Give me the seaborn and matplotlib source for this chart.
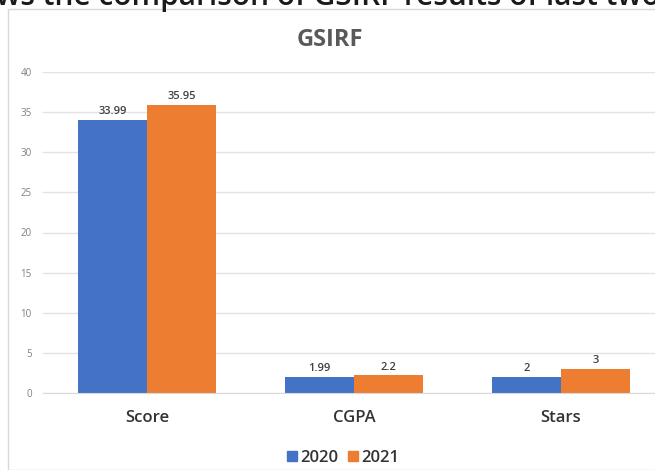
import numpy as np
import pandas as pd
import seaborn as sns
import matplotlib.pyplot as plt
import matplotlib.patches as patches

categories = ["Score", "CGPA", "Stars"]
years = ["2020", "2021"]
values_2020 = [33.99, 1.99, 2]
values_2021 = [35.95, 2.2, 3]
labels_2020 = ["33.99", "1.99", "2"]
labels_2021 = ["35.95", "2.2", "3"]

df = pd.DataFrame({
    "metric": categories * 2,
    "year": [years[0]] * 3 + [years[1]] * 3,
    "value": values_2020 + values_2021,
})

sns.set_style("white")
plt.rcParams["font.family"] = ["Open Sans", "DejaVu Sans"]

W, H = 655, 470
fig = plt.figure(figsize=(W / 100, H / 100), dpi=100)

# chart frame and the caption line above it (clipped at the top in the source)
fig.patches.append(patches.Rectangle((8 / W, 0), 1, 1 - 9 / H, transform=fig.transFigure,
                                     fill=False, edgecolor="#d9d9d9", linewidth=1))
fig.text(0.5, 1 - 5 / H, "ws the comparison of GSIRF results of last two", ha="center",
         va="baseline", fontsize=21.5, fontweight="semibold", color="#1a1a1a")
fig.text(330 / W, 1 - 40 / H, "GSIRF", ha="center", va="center", fontsize=17,
         fontweight="bold", color="#595959")

ax = fig.add_axes([43 / W, 1 - 393 / H, (W - 43) / W, (393 - 72) / H])
palette = {"2020": "#4472C4", "2021": "#ED7D31"}
sns.barplot(data=df, x="metric", y="value", hue="year", palette=palette, width=0.667,
            gap=0, saturation=1, linewidth=0, ax=ax, legend=False)

ax.set_ylim(0, 40)
ax.set_xlim(-0.502, 2.454)
ax.set_yticks(np.arange(0, 41, 5))
ax.yaxis.grid(True, color="#e3e3e3", linewidth=1)
ax.set_axisbelow(True)
for s in ax.spines.values():
    s.set_visible(False)
ax.spines["bottom"].set_visible(True)
ax.spines["bottom"].set_color("#d9d9d9")
ax.tick_params(axis="y", labelsize=7, colors="#808080", length=0, pad=8)
ax.tick_params(axis="x", labelsize=12, colors="#333333", length=0, pad=12)
for t in ax.get_xticklabels():
    t.set_fontweight("semibold")
ax.set_xlabel("")
ax.set_ylabel("")

for cont, labs in zip(ax.containers, [labels_2020, labels_2021]):
    ax.bar_label(cont, labels=labs, fontsize=8, color="#404040", fontweight="semibold", padding=2)

handles = [patches.Patch(color=palette[y]) for y in years]
fig.legend(handles, years, loc="center", bbox_to_anchor=(343 / W, 1 - 458 / H), ncol=2,
           frameon=False, prop={"size": 12, "weight": "semibold"}, handlelength=0.6,
           handleheight=0.6, handletextpad=0.2, columnspacing=0.6, labelcolor="#333333")

fig.savefig("out.png", dpi=100)
